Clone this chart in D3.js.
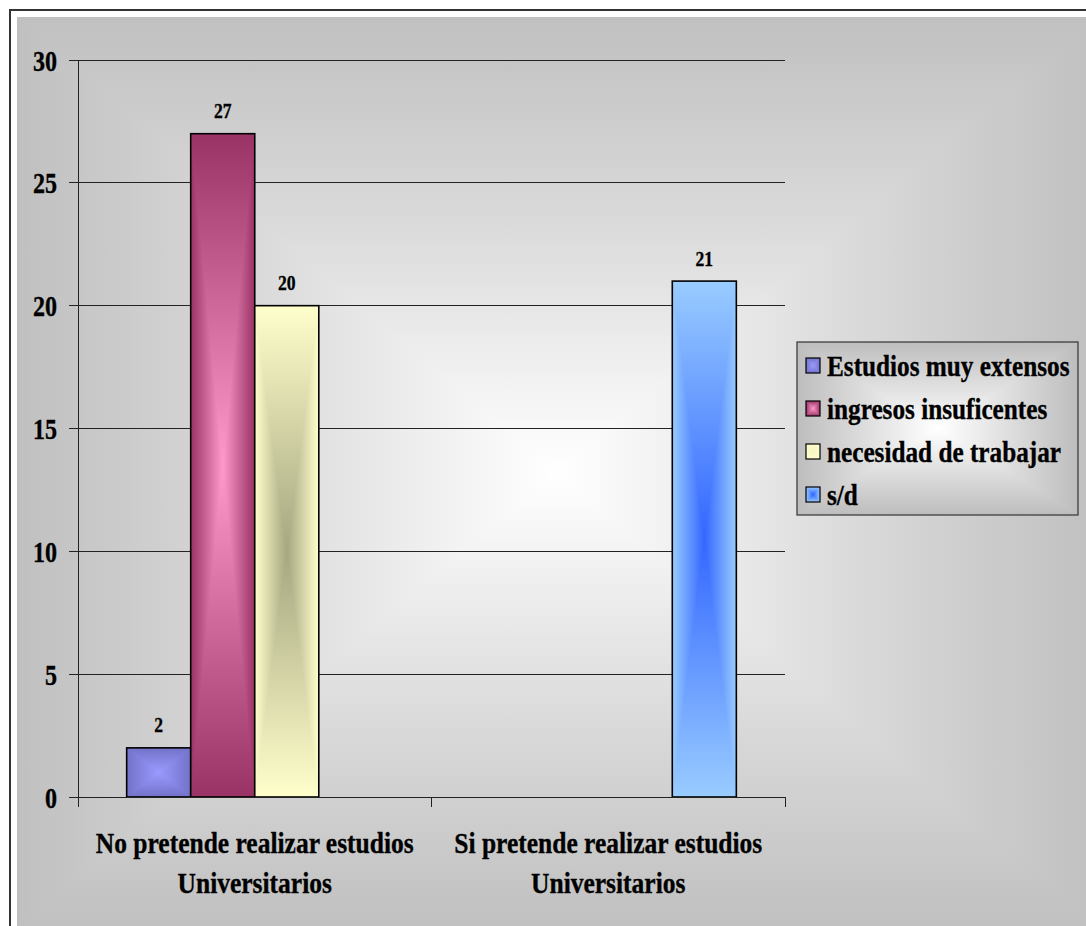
<!DOCTYPE html>
<html>
<head>
<meta charset="utf-8">
<script src="https://cdn.jsdelivr.net/npm/d3@7"></script>
<style>
  html, body { margin: 0; padding: 0; background: #fff; }
  svg { display: block; }
  text { font-family: "Liberation Serif", "Times New Roman", serif; font-weight: bold; fill: #000; stroke: #000; stroke-width: 0.35px; }
</style>
</head>
<body>
<svg id="chart" width="1086" height="926"></svg>
<script>
// ---- data ----
const categories = ["No pretende realizar estudios Universitarios", "Si pretende realizar estudios Universitarios"];
const series = ["Estudios muy extensos", "ingresos insuficentes", "necesidad de trabajar", "s/d"];
const estudiosValues = [2, null];
const ingresosValues = [27, null];
const necesidadValues = [20, null];
const sdValues = [null, 21];
const yTicks = [0, 5, 10, 15, 20, 25, 30];
const seriesEdge = ["#7272c8", "#993366", "#ffffcc", "#99ccff"];
const seriesCenter = ["#9a9aff", "#ff99cc", "#a6a680", "#3366ff"];
const legendCenter = ["#9a9aff", "#ff99cc", "#f4f4c4", "#3366ff"];

const valuesBySeries = [estudiosValues, ingresosValues, necesidadValues, sdValues];

const svg = d3.select("#chart");
const defs = svg.append("defs");

// rectangular "from center" gradients
function makeGrad(id, edge, center, mid) {
  const dirs = { T: [0, 0, 0, 1], B: [0, 1, 0, 0] };
  Object.entries(dirs).forEach(([k, c]) => {
    const g = defs.append("linearGradient").attr("id", id + k)
      .attr("x1", c[0]).attr("y1", c[1]).attr("x2", c[2]).attr("y2", c[3]);
    g.append("stop").attr("offset", 0).attr("stop-color", edge);
    if (mid) g.append("stop").attr("offset", mid[0]).attr("stop-color", mid[1]);
    g.append("stop").attr("offset", 1).attr("stop-color", center);
  });
  const h = defs.append("linearGradient").attr("id", id + "H")
    .attr("x1", 0).attr("y1", 0).attr("x2", 1).attr("y2", 0);
  h.append("stop").attr("offset", 0).attr("stop-color", edge);
  if (mid) h.append("stop").attr("offset", mid[0] / 2).attr("stop-color", mid[1]);
  h.append("stop").attr("offset", 0.5).attr("stop-color", center);
  if (mid) h.append("stop").attr("offset", 1 - mid[0] / 2).attr("stop-color", mid[1]);
  h.append("stop").attr("offset", 1).attr("stop-color", edge);
}

function rectFill(g, x, y, w, h, id) {
  const cx = x + w / 2, cy = y + h / 2;
  g.append("rect").attr("x", x).attr("y", y).attr("width", w).attr("height", h)
    .attr("fill", `url(#${id}H)`);
  g.append("path").attr("d", `M${x},${y}L${x + w},${y}L${cx},${cy}Z`).attr("fill", `url(#${id}T)`);
  g.append("path").attr("d", `M${x},${y + h}L${x + w},${y + h}L${cx},${cy}Z`).attr("fill", `url(#${id}B)`);
}

series.forEach((s, i) => {
  makeGrad("s" + i, seriesEdge[i], seriesCenter[i]);
  makeGrad("l" + i, seriesEdge[i], legendCenter[i]);
});
makeGrad("bg", "#c0c0c0", "#ffffff", [0.45, "#dadada"]);
makeGrad("lg", "#bdbdbd", "#ffffff", [0.4, "#d8d8d8"]);

// ---- frame & background ----
svg.append("rect").attr("x", 10).attr("y", 10).attr("width", 1100).attr("height", 1000)
  .attr("fill", "#fff").attr("stroke", "#333").attr("stroke-width", 2);
rectFill(svg.append("g"), 17, 17, 1080, 910, "bg");

// ---- scales ----
const x0 = d3.scaleBand().domain(categories).range([78, 785]).paddingInner(0).paddingOuter(0);
const x1 = d3.scaleBand().domain(series).range([0, x0.bandwidth()]).paddingInner(0).paddingOuter(0.76);
const y = d3.scaleLinear().domain([0, 30]).range([797, 60]);

// gridlines
svg.append("g").selectAll("line").data(yTicks.filter(t => t > 0)).join("line")
  .attr("x1", 78).attr("x2", 785).attr("y1", d => y(d)).attr("y2", d => y(d))
  .attr("stroke", "#222").attr("stroke-width", 1).attr("shape-rendering", "crispEdges");

// bars
const barG = svg.append("g");
categories.forEach((c, ci) => {
  series.forEach((s, si) => {
    const v = valuesBySeries[si][ci];
    if (v == null) return;
    const bx = x0(c) + x1(s), bw = x1.bandwidth();
    const by = y(v), bh = y(0) - y(v);
    const g = barG.append("g");
    rectFill(g, bx, by, bw, bh, "s" + si);
    g.append("rect").attr("x", bx).attr("y", by).attr("width", bw).attr("height", bh)
      .attr("fill", "none").attr("stroke", "#000").attr("stroke-width", 1.6);
    svg.append("text")
      .attr("transform", `translate(${bx + bw / 2},${by - 15.5}) scale(0.8,1)`)
      .attr("text-anchor", "middle").attr("font-size", 22).text(v);
  });
});

// axes
const axG = svg.append("g").attr("stroke", "#222").attr("stroke-width", 1).attr("shape-rendering", "crispEdges");
axG.append("line").attr("x1", 78).attr("x2", 78).attr("y1", y(30)).attr("y2", y(0) + 10);
axG.append("line").attr("x1", 69).attr("x2", 785).attr("y1", y(0)).attr("y2", y(0));
axG.selectAll(".yt").data(yTicks).join("line").attr("class", "yt")
  .attr("x1", 69).attr("x2", 78).attr("y1", d => y(d)).attr("y2", d => y(d));
const catEdges = [x0(categories[0]), x0(categories[1]), x0(categories[1]) + x0.bandwidth()];
axG.selectAll(".xt").data(catEdges).join("line").attr("class", "xt")
  .attr("x1", d => d).attr("x2", d => d).attr("y1", y(0)).attr("y2", y(0) + 10);

// y tick labels
svg.append("g").selectAll("text").data(yTicks).join("text")
  .attr("transform", d => `translate(57,${y(d) + 10.5}) scale(0.83,1)`)
  .attr("text-anchor", "end").attr("font-size", 29).text(d => d);

// category labels (two lines)
categories.forEach(c => {
  const idx = c.lastIndexOf(" ");
  const lines = [c.slice(0, idx), c.slice(idx + 1)];
  const cx = x0(c) + x0.bandwidth() / 2;
  lines.forEach((l, li) => {
    svg.append("text")
      .attr("transform", `translate(${cx},${853 + li * 39.5}) scale(0.85,1)`)
      .attr("text-anchor", "middle").attr("font-size", 30).text(l);
  });
});

// legend
const lg = svg.append("g");
rectFill(lg, 797, 342, 281, 173, "lg");
lg.append("rect").attr("x", 797).attr("y", 342).attr("width", 281).attr("height", 173)
  .attr("fill", "none").attr("stroke", "#333").attr("stroke-width", 1.2);
series.forEach((s, i) => {
  const base = 376 + i * 43;
  const sg = lg.append("g");
  rectFill(sg, 806, base - 18, 14, 15, "l" + i);
  sg.append("rect").attr("x", 806).attr("y", base - 18).attr("width", 14).attr("height", 15)
    .attr("fill", "none").attr("stroke", "#000").attr("stroke-width", 1.2);
  lg.append("text")
    .attr("transform", `translate(827,${base}) scale(0.87,1)`)
    .attr("font-size", 29).text(s);
});
</script>
</body>
</html>
